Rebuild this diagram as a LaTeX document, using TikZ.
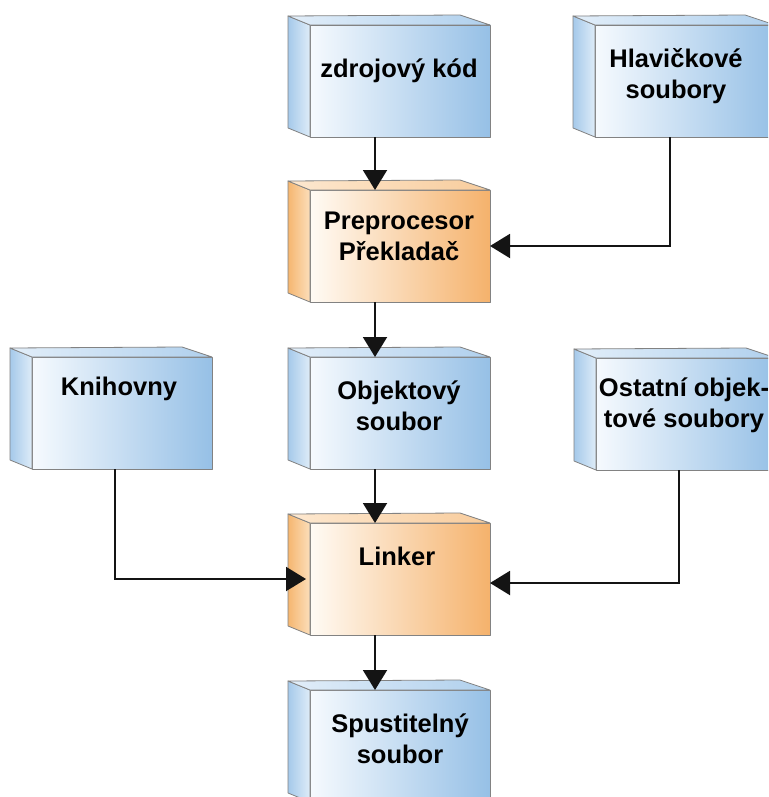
\documentclass[tikz,border=0pt]{standalone}
\usepackage{fontspec}
\setmainfont{Liberation Sans}
\usetikzlibrary{arrows.meta,calc}

\definecolor{bluelight}{RGB}{246,250,254}
\definecolor{bluedeep}{RGB}{150,192,230}
\definecolor{bluetopL}{RGB}{226,238,249}
\definecolor{bluetopR}{RGB}{176,208,237}
\definecolor{bluesideL}{RGB}{165,201,234}
\definecolor{bluesideR}{RGB}{222,236,248}
\definecolor{orangelight}{RGB}{255,251,245}
\definecolor{orangedeep}{RGB}{245,178,108}
\definecolor{orangetopL}{RGB}{253,232,208}
\definecolor{orangetopR}{RGB}{248,204,156}
\definecolor{orangesideL}{RGB}{245,182,112}
\definecolor{orangesideR}{RGB}{252,222,186}
\definecolor{edgegray}{RGB}{130,130,130}
\definecolor{wire}{RGB}{20,20,20}

\tikzset{
  x=1pt, y=-1pt,
  facebase/.style={draw=edgegray, line width=0.8pt, line join=round},
  bluefront/.style={facebase, rectangle, inner sep=0pt, outer sep=0pt,
    minimum width=180pt, minimum height=112pt,
    left color=bluelight, right color=bluedeep},
  blueside/.style={facebase, left color=bluesideL, right color=bluesideR},
  bluetop/.style={facebase, left color=bluetopL, right color=bluetopR},
  orangefront/.style={facebase, rectangle, inner sep=0pt, outer sep=0pt,
    minimum width=180pt, minimum height=112pt,
    left color=orangelight, right color=orangedeep},
  orangeside/.style={facebase, left color=orangesideL, right color=orangesideR},
  orangetop/.style={facebase, left color=orangetopL, right color=orangetopR},
  lbl/.style={align=center, inner sep=0pt, text=black,
    font=\fontsize{25.5}{31}\selectfont\bfseries},
  arr/.style={draw=wire, line width=2pt,
    -{Triangle[length=20pt,width=24pt]}},
}

% a box drawn in perspective: front face node, left side face and top face
\newcommand{\cuboid}[3]{%
  \node[#3front] (#1) at (#2) {};
  \path[#3side] (#1.north west) -- ++(-22,-9)
    -- ([shift={(-22,-9)}]#1.south west) -- (#1.south west) -- cycle;
  \path[#3top] (#1.north west) -- ++(-22,-9)
    -- ([shift={(-30,-10)}]#1.north east) -- (#1.north east) -- cycle;
}

\begin{document}
\begin{tikzpicture}
\useasboundingbox (0,0) rectangle (768,797);
\clip (0,0) rectangle (768,797);
\fill[white] (0,0) rectangle (768,797);

% boxes
\cuboid{zdroj}{400,81}{blue}
\cuboid{hlav}{685,81}{blue}
\cuboid{prep}{400,246}{orange}
\cuboid{knih}{122,413}{blue}
\cuboid{obj}{400,413}{blue}
\cuboid{ost}{686,414}{blue}
\cuboid{linker}{400,579}{orange}
\cuboid{spust}{400,746}{blue}

% labels
\node[lbl] (zdrojt) at (399,71) {zdrojový kód};
\node[lbl] (hlavt) at (676,76) {Hlavičkové\\soubory};
\node[lbl] (prept) at (399,236) {Preprocesor\\Překladač};
\node[lbl] (knitht) at (119,389) {Knihovny};
\node[lbl] (objt) at (399,406) {Objektový\\soubor};
\node[lbl] (ostt) at (684,405) {Ostatní objek-\\tové soubory};
\node[lbl] (linkert) at (397,556) {Linker};
\node[lbl] (spustt) at (400,739) {Spustitelný\\soubor};

% connectors
\draw[arr] ([xshift=-25pt]zdroj.south) -- ([xshift=-25pt]prep.north);
\draw[arr] ([xshift=-25pt]prep.south) -- ([xshift=-25pt]obj.north);
\draw[arr] ([xshift=-25pt]obj.south) -- ([xshift=-25pt]linker.north);
\draw[arr] ([xshift=-25pt]linker.south) -- ([xshift=-25pt]spust.north);
\draw[arr] ([xshift=-15pt]hlav.south) |- (prep.east);
\draw[arr] ([xshift=-7pt]knih.south) |- ([xshift=-4pt]linker.west);
\draw[arr] ([xshift=-7pt]ost.south) |- ([yshift=-4pt]linker.east);
\end{tikzpicture}
\end{document}
